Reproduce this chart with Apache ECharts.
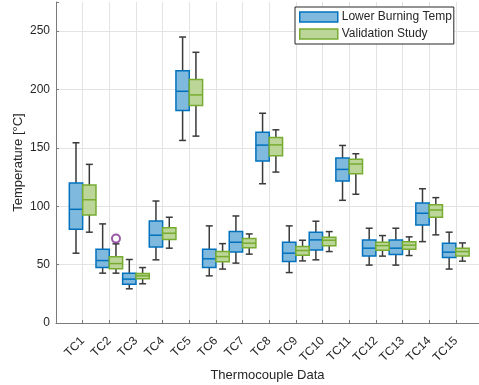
<!DOCTYPE html>
<html>
<head>
<meta charset="utf-8">
<script src="https://cdn.jsdelivr.net/npm/echarts@6/dist/echarts.min.js"></script>
<style>html,body{margin:0;padding:0;background:#fff}#c{width:479px;height:385px}</style>
</head>
<body>
<div id="c"></div>
<script>
// Tick labels / categories
const categories = ['TC1','TC2','TC3','TC4','TC5','TC6','TC7','TC8','TC9','TC10','TC11','TC12','TC13','TC14','TC15'];
const yTicks = [0, 50, 100, 150, 200, 250];
// [lower whisker, Q1, median, Q3, upper whisker]
const lowerBurning = [
  [59.8, 80.3, 97.4, 119.9, 154.4],
  [42.7, 47.5, 53.5, 63.2, 84.9],
  [29.3, 33.3, 37.6, 42.7, 54.4],
  [54.1, 65.2, 75.2, 87.4, 104.5],
  [156.4, 182.1, 198.5, 216.2, 245.0],
  [40.4, 47.5, 55.0, 63.2, 83.2],
  [51.3, 60.9, 69.2, 78.3, 91.7],
  [119.3, 138.7, 152.4, 163.5, 179.7],
  [43.2, 52.6, 59.8, 69.2, 83.2],
  [54.1, 62.6, 71.2, 77.8, 87.2],
  [105.1, 121.6, 131.6, 141.3, 152.1],
  [49.6, 57.5, 64.1, 71.2, 81.2],
  [49.6, 58.6, 64.1, 71.2, 81.2],
  [69.7, 84.0, 94.0, 102.8, 115.0],
  [46.2, 56.1, 60.7, 68.4, 77.8]
];
const validationStudy = [
  [77.8, 92.6, 105.6, 118.2, 135.9],
  [42.7, 46.4, 50.9, 56.7, 67.8],
  [33.6, 37.9, 40.4, 42.4, 47.5],
  [64.1, 71.5, 76.9, 81.7, 90.6],
  [160.1, 186.3, 195.4, 208.5, 231.9],
  [46.2, 52.4, 56.9, 61.2, 68.0],
  [59.0, 64.4, 68.4, 72.3, 76.3],
  [129.3, 143.2, 152.6, 159.0, 165.5],
  [53.2, 58.1, 62.1, 65.5, 70.9],
  [61.2, 66.1, 70.9, 73.5, 78.3],
  [110.3, 127.9, 136.2, 140.2, 145.0],
  [57.3, 62.4, 66.3, 69.2, 74.9],
  [57.8, 63.2, 66.7, 69.5, 73.8],
  [75.5, 90.6, 96.8, 101.4, 107.4],
  [53.0, 57.5, 61.2, 64.1, 68.6]
];
// outliers: [category number (1-based), value]
const validationOutliers = [[2, 72.3]];

const BLUE = '#0072BD', BLUE_FILL = '#80B9DE';
const GREEN = '#77AC30', GREEN_FILL = '#BBD698';
const WHISK = '#3a3a3a';
const FONT = 'Liberation Sans, Arial, sans-serif';
const TXT = '#262626';

function toData(arr) {
  return arr.map((d, i) => [i + 1].concat(d));
}

function makeRender(offset, stroke, fill) {
  const half = 0.25, cap = 0.13;
  return function (params, api) {
    const x = api.value(0) + offset;
    const vMin = api.value(1), q1 = api.value(2), med = api.value(3), q3 = api.value(4), vMax = api.value(5);
    const pTop = api.coord([x, vMax]);
    const pQ3 = api.coord([x, q3]);
    const pQ1 = api.coord([x, q1]);
    const pBot = api.coord([x, vMin]);
    const pMed = api.coord([x, med]);
    const xl = api.coord([x - half, med])[0];
    const xr = api.coord([x + half, med])[0];
    const cl = api.coord([x - cap, med])[0];
    const cr = api.coord([x + cap, med])[0];
    const ws = { stroke: WHISK, lineWidth: 1.5 };
    return {
      type: 'group',
      children: [
        { type: 'line', shape: { x1: pTop[0], y1: pTop[1], x2: pQ3[0], y2: pQ3[1] }, style: ws },
        { type: 'line', shape: { x1: pQ1[0], y1: pQ1[1], x2: pBot[0], y2: pBot[1] }, style: ws },
        { type: 'line', shape: { x1: cl, y1: pTop[1], x2: cr, y2: pTop[1] }, style: ws },
        { type: 'line', shape: { x1: cl, y1: pBot[1], x2: cr, y2: pBot[1] }, style: ws },
        { type: 'rect', shape: { x: xl, y: pQ3[1], width: xr - xl, height: pQ1[1] - pQ3[1] },
          style: { fill: fill, stroke: stroke, lineWidth: 1.5 } },
        { type: 'line', shape: { x1: xl, y1: pMed[1], x2: xr, y2: pMed[1] }, style: { stroke: stroke, lineWidth: 1.5 } }
      ]
    };
  };
}

const chart = echarts.init(document.getElementById('c'), null, { renderer: 'canvas' });
chart.setOption({
  animation: false,
  backgroundColor: '#fff',
  grid: { left: 56, right: 0, top: 2, bottom: 62, containLabel: false, outerBoundsMode: 'none' },
  legend: {
    orient: 'vertical',
    left: 295, top: 7,
    padding: [4, 2, 4, 4],
    itemWidth: 38, itemHeight: 10, itemGap: 5,
    borderColor: '#262626', borderWidth: 1, backgroundColor: '#fff',
    textStyle: { fontFamily: FONT, fontSize: 12, color: TXT, padding: [0, 0, 0, -1] },
    data: [
      { name: 'Lower Burning Temp', icon: 'rect', itemStyle: { color: BLUE_FILL, borderColor: BLUE, borderWidth: 1.5 } },
      { name: 'Validation Study', icon: 'rect', itemStyle: { color: GREEN_FILL, borderColor: GREEN, borderWidth: 1.5 } }
    ]
  },
  xAxis: {
    type: 'value', min: 0, max: 15.87, interval: 1,
    name: 'Thermocouple Data', nameLocation: 'middle', nameGap: 46,
    nameMoveOverlap: false,
    nameTextStyle: { fontFamily: FONT, fontSize: 13, color: TXT },
    axisLine: { show: true, onZero: false, lineStyle: { color: '#7a7a7a', width: 1 } },
    axisTick: { show: true, inside: true, length: 3, lineStyle: { color: '#7a7a7a' } },
    axisLabel: {
      rotate: 45, margin: 16, fontFamily: FONT, fontSize: 12, color: TXT,
      formatter: v => (Number.isInteger(v) && v >= 1 && v <= categories.length) ? categories[v - 1] : ''
    },
    splitLine: { show: true, showMinLine: false, showMaxLine: false, lineStyle: { color: '#e3e3e3', width: 1 } }
  },
  yAxis: {
    type: 'value', min: 0, max: 275, interval: 50,
    name: 'Temperature [°C]', nameLocation: 'middle', nameGap: 31, nameRotate: 90,
    nameMoveOverlap: false,
    nameTextStyle: { fontFamily: FONT, fontSize: 13, color: TXT },
    axisLine: { show: true, lineStyle: { color: '#7a7a7a', width: 1 } },
    axisTick: { show: true, inside: true, length: 3, lineStyle: { color: '#7a7a7a' } },
    axisLabel: {
      margin: 6, fontFamily: FONT, fontSize: 12, color: TXT,
      formatter: v => yTicks.indexOf(v) >= 0 ? String(v) : ''
    },
    splitLine: { show: true, showMinLine: false, showMaxLine: false, lineStyle: { color: '#e3e3e3', width: 1 } }
  },
  series: [
    {
      name: 'Lower Burning Temp', type: 'custom',
      itemStyle: { color: BLUE_FILL, borderColor: BLUE },
      renderItem: makeRender(-0.25, BLUE, BLUE_FILL),
      encode: { x: 0, y: [1, 2, 3, 4, 5] },
      data: toData(lowerBurning), z: 3
    },
    {
      name: 'Validation Study', type: 'custom',
      itemStyle: { color: GREEN_FILL, borderColor: GREEN },
      renderItem: makeRender(0.25, GREEN, GREEN_FILL),
      encode: { x: 0, y: [1, 2, 3, 4, 5] },
      data: toData(validationStudy), z: 3
    },
    {
      name: 'outliers', type: 'scatter',
      symbol: 'emptyCircle', symbolSize: 8,
      itemStyle: { color: '#7E2F8E', borderColor: '#7E2F8E', borderWidth: 1.3 },
      data: validationOutliers.map(o => [o[0] + 0.25, o[1]]), z: 4
    }
  ]
});
</script>
</body>
</html>
